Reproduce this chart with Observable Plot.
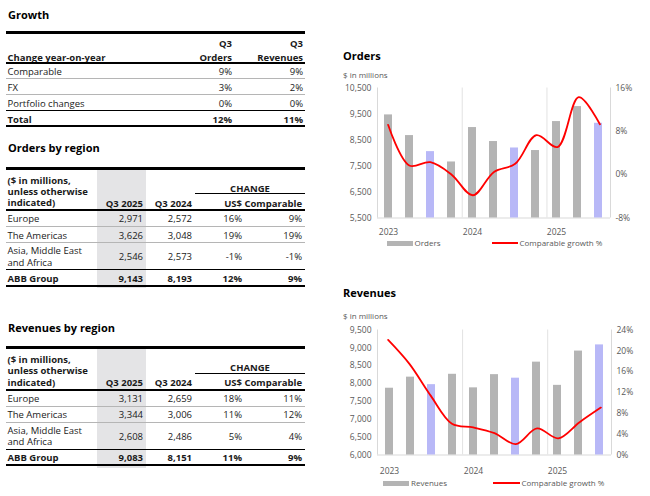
<!DOCTYPE html>
<html>
<head>
<meta charset="utf-8">
<script src="https://cdn.jsdelivr.net/npm/d3@7"></script>
<script src="https://cdn.jsdelivr.net/npm/@observablehq/plot@0.6"></script>
<style>
  html, body { margin: 0; padding: 0; background: #fff; }
  #page { position: relative; width: 650px; height: 496px; overflow: hidden; font-family: "Open Sans", "Noto Sans", sans-serif; color: #1a1a1a; }
  .t { position: absolute; white-space: nowrap; height: 11px; line-height: 11px; font-size: 9.5px; }
  .ml { position: absolute; white-space: pre; font-size: 9.5px; }
  .b { font-weight: 700; }
  .r { position: absolute; }
  .title { font-size: 11px; font-weight: 700; color: #000; height: 13px; line-height: 13px; }
  .chartbox { position: absolute; left: 330px; width: 320px; height: 175px; }
  .chartbox svg { position: absolute; left: 0; top: 0; overflow: visible; }
  .lg { position: absolute; font-size: 8px; color: #595959; white-space: nowrap; height: 10px; line-height: 10px; }
</style>
</head>
<body>
<div id="page"></div>
<script>
// ---------- data ----------
const quarters = ["Q1 2023","Q2 2023","Q3 2023","Q4 2023","Q1 2024","Q2 2024","Q3 2024","Q4 2024","Q1 2025","Q2 2025","Q3 2025"];
const ordersValues = [9465, 8670, 8053, 7655, 8979, 8441, 8193, 8095, 9209, 9785, 9143];
const ordersGrowth = [9.2, 1.7, 2.3, 0.0, -3.8, 0.5, 2.0, 7.3, 5.1, 14.3, 9.3];
const revenuesValues = [7870, 8180, 7970, 8260, 7880, 8250, 8151, 8600, 7950, 8910, 9083];
const revenuesGrowth = [22.1, 17.5, 11.4, 6.0, 5.3, 4.2, 2.1, 5.1, 3.2, 6.3, 9.1];
const ordersTicks = [5500, 6500, 7500, 8500, 9500, 10500];
const ordersGrowthTicks = [-8, 0, 8, 16];
const revenuesTicks = [6000, 6500, 7000, 7500, 8000, 8500, 9000, 9500];
const revenuesGrowthTicks = [0, 4, 8, 12, 16, 20, 24];
const yearTicks = ["Q1 2023", "Q1 2024", "Q1 2025"];

const growthHeader = [["", "Q3", "Q3"], ["Change year-on-year", "Orders", "Revenues"]];
const growthRows = [
  ["Comparable", "9%", "9%"],
  ["FX", "3%", "2%"],
  ["Portfolio changes", "0%", "0%"],
  ["Total", "12%", "11%"]
];
const regionHeader = ["($ in millions,", "unless otherwise", "indicated)"];
const regionCols = ["Q3 2025", "Q3 2024", "US$", "Comparable"];
const ordersRegionRows = [
  ["Europe", "2,971", "2,572", "16%", "9%"],
  ["The Americas", "3,626", "3,048", "19%", "19%"],
  ["Asia, Middle East|and Africa", "2,546", "2,573", "-1%", "-1%"],
  ["ABB Group", "9,143", "8,193", "12%", "9%"]
];
const revenuesRegionRows = [
  ["Europe", "3,131", "2,659", "18%", "11%"],
  ["The Americas", "3,344", "3,006", "11%", "12%"],
  ["Asia, Middle East|and Africa", "2,608", "2,486", "5%", "4%"],
  ["ABB Group", "9,083", "8,151", "11%", "9%"]
];

// ---------- helpers ----------
const page = document.getElementById("page");
function text(str, x, y, opts = {}) {
  const d = document.createElement("div");
  d.className = "t" + (opts.bold ? " b" : "") + (opts.cls ? " " + opts.cls : "");
  d.textContent = str;
  const h = opts.cls === "title" ? 13 : 11;
  d.style.top = (y - h / 2) + "px";
  if (opts.align === "right") { d.style.left = (x - 300) + "px"; d.style.width = "300px"; d.style.textAlign = "right"; }
  else if (opts.align === "center") { d.style.left = (x - 150) + "px"; d.style.width = "300px"; d.style.textAlign = "center"; }
  else d.style.left = x + "px";
  if (opts.size) d.style.fontSize = opts.size + "px";
  if (opts.color) d.style.color = opts.color;
  page.appendChild(d);
  return d;
}
// multi-line text block; y = centre of first line
function multi(lines, x, y, lh, opts = {}) {
  const d = document.createElement("div");
  d.className = "ml" + (opts.bold ? " b" : "");
  d.textContent = lines.join("\n");
  d.style.lineHeight = lh + "px";
  d.style.left = x + "px";
  d.style.top = (y - lh / 2) + "px";
  page.appendChild(d);
}
function rule(x1, x2, y, h, color) {
  const d = document.createElement("div");
  d.className = "r";
  d.style.left = x1 + "px"; d.style.width = (x2 - x1) + "px";
  d.style.top = (y - h / 2) + "px"; d.style.height = h + "px";
  d.style.background = color;
  page.appendChild(d);
}
function rect(x1, x2, y1, y2, color) {
  const d = document.createElement("div");
  d.className = "r";
  d.style.left = x1 + "px"; d.style.width = (x2 - x1) + "px";
  d.style.top = y1 + "px"; d.style.height = (y2 - y1) + "px";
  d.style.background = color;
  page.appendChild(d);
}
const GREYRULE = "#b5b5b5";

// ---------- Growth table ----------
text("Growth", 8, 14, {cls: "title"});
rule(6, 305, 32.5, 3, "#000");
text(growthHeader[0][1], 232, 43, {bold: true, align: "right"});
text(growthHeader[0][2], 303, 43, {bold: true, align: "right"});
text(growthHeader[1][0], 7.5, 57, {bold: true});
text(growthHeader[1][1], 232, 57, {bold: true, align: "right"});
text(growthHeader[1][2], 303, 57, {bold: true, align: "right"});
rule(6, 305, 62.5, 2, "#000");
growthRows.forEach((row, i) => {
  const y = 71 + i * 16;
  const last = i === growthRows.length - 1;
  text(row[0], 7.5, y, {bold: last});
  text(row[1], 232, y, {bold: last, align: "right"});
  text(row[2], 303, y, {bold: last, align: "right"});
  const ry = y + 7.3;
  if (last) rule(6, 305, ry, 2, "#000");
  else if (i === growthRows.length - 2) rule(6, 305, ry, 1, "#000");
  else rule(6, 305, ry, 1, GREYRULE);
});

// ---------- Region tables ----------
function regionTable(top, title, rows) {
  text(title, 8, top - 20.5, {cls: "title"});
  rect(97, 146, top + 1.5, top + 120, "#e4e4e6");
  rule(6, 305, top, 3, "#000");
  multi(regionHeader, 7.5, top + 12.3, 11.2, {bold: true});
  text("CHANGE", 250, top + 20.3, {bold: true, align: "center"});
  rule(195, 305, top + 25.5, 1, "#000");
  const hx = [143, 192, 242, 302];
  regionCols.forEach((c, i) => text(c, hx[i], top + 35, {bold: true, align: "right"}));
  rule(6, 305, top + 42.3, 2, "#000");
  let y = top + 42.3;
  rows.forEach((row, i) => {
    const lines = row[0].split("|");
    const h = lines.length > 1 ? 26.7 : 16.3;
    const cy = y + h / 2 + 0.3;
    const last = i === rows.length - 1;
    if (lines.length > 1) multi(lines, 7.5, cy - 5.6, 11.2, {bold: last});
    else text(lines[0], 7.5, cy, {bold: last});
    row.slice(1).forEach((v, j) => text(v, hx[j], cy, {bold: last, align: "right"}));
    y += h;
    if (last) rule(6, 305, y, 2, "#000");
    else if (i === rows.length - 2) rule(6, 305, y, 1, "#000");
    else rule(6, 305, y, 1, GREYRULE);
  });
}
regionTable(168, "Orders by region", ordersRegionRows);
regionTable(347.5, "Revenues by region", revenuesRegionRows);

// ---------- Charts ----------
const GREY = "#b4b4b4", PURPLE = "#b8b8f7", RED = "#ff0000", AX = "#d9d9d9";
const chartStyle = {fontFamily: "'Open Sans', 'Noto Sans', sans-serif", fontSize: "8.5px", color: "#595959", background: "transparent", overflow: "visible"};

function chart({top, titleY, subY, values, growth, yDomain, yTicks, gDomain, gTicks, marginTop, marginBottom, marginRight, yearPad, title, sub, legendName, legend}) {
  text(title, 343, titleY, {cls: "title"});
  text(sub, 343, subY, {size: 8, color: "#595959"});
  const box = document.createElement("div");
  box.className = "chartbox";
  box.style.top = top + "px";
  page.appendChild(box);
  const bars = quarters.map((q, i) => ({q, v: values[i], i}));
  const pts = quarters.map((q, i) => ({i, g: growth[i]}));
  const bounds = quarters.map((q, i) => i).filter(i => i > 0 && quarters[i].startsWith("Q1")).map(i => i - 0.5);
  const common = {width: 320, height: 175, marginLeft: 47, marginRight, marginTop, marginBottom, style: chartStyle};
  const p1 = Plot.plot({
    ...common,
    x: {type: "band", domain: quarters, paddingInner: 0.61, paddingOuter: 0.305},
    y: {domain: yDomain, label: null},
    marks: [
      Plot.ruleY([yDomain[0]], {stroke: AX}),
      Plot.barY(bars.filter(d => !d.q.startsWith("Q3")), {x: "q", y1: yDomain[0], y2: "v", fill: GREY}),
      Plot.barY(bars.filter(d => d.q.startsWith("Q3")), {x: "q", y1: yDomain[0], y2: "v", fill: PURPLE}),
      Plot.axisY({anchor: "left", ticks: yTicks, tickFormat: d3.format(","), tickSize: 0, tickPadding: 6, label: null}),
      Plot.axisX({anchor: "bottom", ticks: yearTicks, tickFormat: d => d.slice(3), tickSize: 0, tickPadding: yearPad, label: null})
    ]
  });
  const p2 = Plot.plot({
    ...common,
    x: {type: "linear", domain: [-0.5, quarters.length - 0.5], axis: null},
    y: {domain: gDomain, label: null},
    marks: [
      Plot.ruleX([-0.5, quarters.length - 0.5], {stroke: AX}),
      Plot.ruleX(bounds, {stroke: "#e2e2e2"}),
      Plot.line(pts, {x: "i", y: "g", stroke: RED, strokeWidth: 1.8, curve: "catmull-rom"}),
      Plot.axisY({anchor: "right", ticks: gTicks, tickFormat: d => d + "%", tickSize: 0, tickPadding: 5, label: null})
    ]
  });
  box.appendChild(p1);
  box.appendChild(p2);
  rect(legend.rx1, legend.rx2, legend.y - 2.5, legend.y + 2.5, GREY);
  const l1 = document.createElement("div");
  l1.className = "lg"; l1.textContent = legendName;
  l1.style.left = legend.tx1 + "px"; l1.style.top = (legend.y - 5) + "px";
  page.appendChild(l1);
  rect(legend.lx1, legend.lx2, legend.y - 1, legend.y + 1, RED);
  const l2 = document.createElement("div");
  l2.className = "lg"; l2.textContent = "Comparable growth %";
  l2.style.left = legend.tx2 + "px"; l2.style.top = (legend.y - 5) + "px";
  page.appendChild(l2);
}

chart({
  top: 78, titleY: 55, subY: 74, values: ordersValues, growth: ordersGrowth,
  yDomain: [5500, 10500], yTicks: ordersTicks, gDomain: [-8, 16], gTicks: ordersGrowthTicks,
  marginTop: 9.5, marginBottom: 35.5, marginRight: 40, yearPad: 11,
  title: "Orders", sub: "$ in millions", legendName: "Orders",
  legend: {y: 243.3, rx1: 387, rx2: 413, tx1: 414.5, lx1: 492, lx2: 518, tx2: 519.5}
});
chart({
  top: 320, titleY: 292.7, subY: 315.7, values: revenuesValues, growth: revenuesGrowth,
  yDomain: [6000, 9500], yTicks: revenuesTicks, gDomain: [0, 24], gTicks: revenuesGrowthTicks,
  marginTop: 9.5, marginBottom: 40.5, marginRight: 39, yearPad: 13.4,
  title: "Revenues", sub: "$ in millions", legendName: "Revenues",
  legend: {y: 483.3, rx1: 383, rx2: 409, tx1: 411, lx1: 493, lx2: 520, tx2: 521.5}
});
</script>
</body>
</html>
